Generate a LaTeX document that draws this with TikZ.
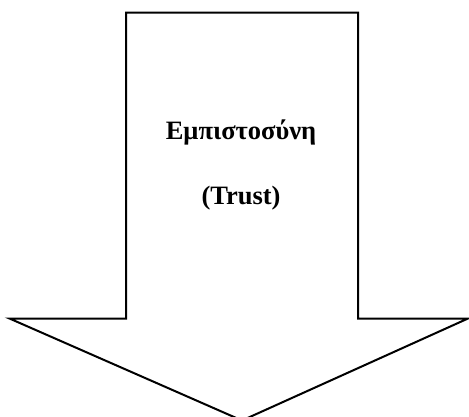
\documentclass[tikz,border=0pt]{standalone}
\usepackage{fontspec}
\setmainfont{Liberation Serif}
\begin{document}
\begin{tikzpicture}[x=1pt,y=-1pt,
  arrowline/.style={draw=black,line width=2pt,line join=miter},
  label/.style={font=\fontsize{26.5}{30}\selectfont\bfseries,inner sep=0pt,anchor=base}]
\useasboundingbox (0,0) rectangle (469,416);
\clip (0,0) rectangle (469,416);
% block arrow pointing down
\draw[arrowline] (126,12.5) -- (358,12.5) -- (358,318.5) -- (468,318.5)
  -- (242,420.5) -- (9.5,318.5) -- (126,318.5) -- cycle;
\node[label] (greek) at (241,139) {Εμπιστοσύνη};
\node[label] (english) at (241,204) {(Trust)};
\end{tikzpicture}
\end{document}
